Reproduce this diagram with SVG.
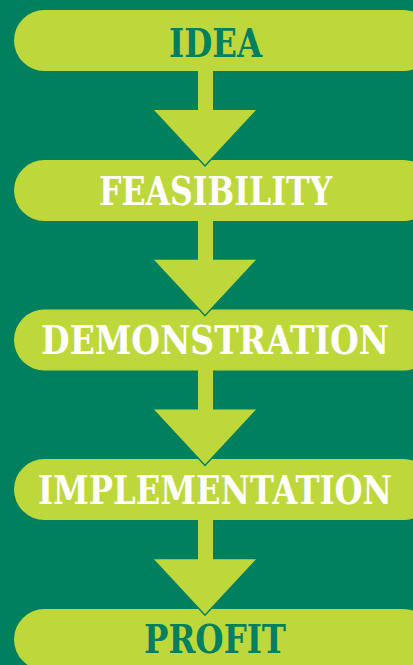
<svg xmlns="http://www.w3.org/2000/svg" width="413" height="665" viewBox="0 0 413 665">
<style>
.pill{fill:#BED73B}
.lbl{font-family:"DejaVu Serif","Liberation Serif",serif;font-weight:bold;font-size:39px;text-anchor:middle}
.dark{fill:#00805F}
.light{fill:#FFFFFF}
.arr{fill:#BED73B}
.edge{fill:none;stroke:#00805F;stroke-width:1.5}
</style>
<rect width="413" height="665" fill="#00805F"/>
<g id="idea"><rect class="pill" x="14" y="10" width="420" height="61" rx="30.5"/><text class="lbl dark" x="215.5" y="57" textLength="93" lengthAdjust="spacingAndGlyphs">IDEA</text></g>
<g id="feasibility"><rect class="pill" x="14" y="160" width="420" height="61" rx="30.5"/><text class="lbl light" x="215.5" y="205" textLength="233" lengthAdjust="spacingAndGlyphs">FEASIBILITY</text></g>
<g id="demonstration"><rect class="pill" x="14" y="309.5" width="420" height="61" rx="30.5"/><text class="lbl light" x="215" y="354" textLength="348" lengthAdjust="spacingAndGlyphs">DEMONSTRATION</text></g>
<g id="implementation"><rect class="pill" x="14" y="459" width="420" height="61" rx="30.5"/><text class="lbl light" x="215" y="504" textLength="354" lengthAdjust="spacingAndGlyphs">IMPLEMENTATION</text></g>
<g id="profit"><rect class="pill" x="14" y="609" width="420" height="61" rx="30.5"/><text class="lbl dark" x="215" y="653" textLength="142" lengthAdjust="spacingAndGlyphs">PROFIT</text></g>
<g id="connectors">
<g transform="translate(0,0)"><path class="arr" d="M198 70 H213 V110 H257 L205 166 L153 110 H198 Z"/><path class="edge" d="M153 110 L205 166 L257 110"/></g>
<g transform="translate(0,149.75)"><path class="arr" d="M198 70 H213 V110 H257 L205 166 L153 110 H198 Z"/><path class="edge" d="M153 110 L205 166 L257 110"/></g>
<g transform="translate(0,299.5)"><path class="arr" d="M198 70 H213 V110 H257 L205 166 L153 110 H198 Z"/><path class="edge" d="M153 110 L205 166 L257 110"/></g>
<g transform="translate(0,449.25)"><path class="arr" d="M198 70 H213 V110 H257 L205 166 L153 110 H198 Z"/><path class="edge" d="M153 110 L205 166 L257 110"/></g>
</g>
</svg>
